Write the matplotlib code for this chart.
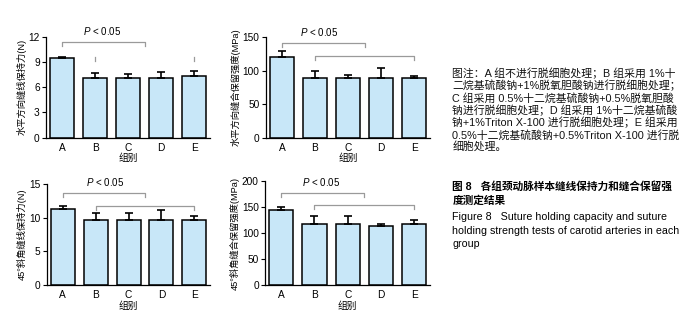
import matplotlib
matplotlib.use("Agg")
import matplotlib.pyplot as plt
import numpy as np

plt.rcParams['font.family'] = ['Liberation Sans', 'Noto Sans CJK SC']
plt.rcParams['mathtext.fontset'] = 'custom'
plt.rcParams['mathtext.it'] = 'Liberation Sans:italic'
plt.rcParams['mathtext.rm'] = 'Liberation Sans'

# data
groups = ["A", "B", "C", "D", "E"]
h_force = [9.43, 7.09, 7.09, 7.1, 7.37]
h_force_err = [0.15, 0.59, 0.51, 0.74, 0.59]
h_strength = [120, 88.7, 88.7, 88.7, 88.7]
h_strength_err = [9, 10.3, 5, 15.3, 3.3]
d_force = [11.33, 9.6, 9.6, 9.7, 9.6]
d_force_err = [0.45, 1.1, 1.1, 1.4, 0.7]
d_strength = [143.8, 117.5, 117.5, 113, 117.5]
d_strength_err = [6.2, 16, 15.5, 5, 8.5]

W, H = 690, 320
fig = plt.figure(figsize=(W / 100, H / 100), dpi=100)

BAR_COLOR = "#c8e7f8"
GRAY = "#9a9a9a"


def px_axes(left, right, top, bottom):
    return fig.add_axes([left / W, 1 - bottom / H, (right - left) / W, (bottom - top) / H])


def panel(ax, vals, errs, ymax, yticks, ylabel, br1, br2, ptxt, faint2=False):
    x = np.arange(len(groups))
    ax.bar(x, vals, width=0.73, color=BAR_COLOR, edgecolor="black", linewidth=1.1, zorder=2)
    ax.errorbar(x, vals, yerr=[np.zeros(len(vals)), errs], fmt="none", ecolor="black",
                elinewidth=1.2, capsize=2.6, capthick=1.2, zorder=3)
    ax.set_xlim(-0.49, 4.48)
    ax.set_ylim(0, ymax)
    ax.set_yticks(yticks)
    ax.set_xticks(x)
    ax.set_xticklabels(groups, fontsize=7.3)
    ax.tick_params(axis="x", length=0, pad=3.5)
    ax.tick_params(axis="y", labelsize=7.3, length=3, width=0.8, pad=1.5)
    for s in ("top", "right"):
        ax.spines[s].set_visible(False)
    ax.spines["left"].set_linewidth(0.9)
    ax.spines["bottom"].set_linewidth(0.9)
    ax.set_ylabel(ylabel, fontsize=6.7, labelpad=1.5)
    ax.set_xlabel("组别", fontsize=7, labelpad=0.5)
    tick = ymax * 0.04
    # brackets
    y1 = br1
    ax.plot([0, 0, 2.5, 2.5], [y1 - tick, y1, y1, y1 - tick], color=GRAY, lw=0.9, clip_on=False)
    y2 = br2
    if faint2:
        ax.plot([1, 1], [y2 - tick, y2], color=GRAY, lw=0.9, clip_on=False)
        ax.plot([4, 4], [y2 - tick, y2], color=GRAY, lw=0.9, clip_on=False)
    else:
        ax.plot([1, 1, 4, 4], [y2 - tick, y2, y2, y2 - tick], color=GRAY, lw=0.9, clip_on=False)
    ax.text(ptxt[0], ptxt[1], "$P$ < 0.05", fontsize=7, ha="center", va="center", clip_on=False)


ax1 = px_axes(46, 210, 36.7, 137.7)
panel(ax1, h_force, h_force_err, 12, [0, 3, 6, 9, 12], "水平方向缝线保持力(N)",
      11.37, 9.58, (1.2, 12.67), faint2=True)

ax2 = px_axes(265.7, 430, 37.3, 137.7)
panel(ax2, h_strength, h_strength_err, 150, [0, 50, 100, 150], "水平方向缝合保留强度(MPa)",
      141, 122, (1.14, 158))

ax3 = px_axes(46.7, 210, 184, 285)
panel(ax3, d_force, d_force_err, 15, [0, 5, 10, 15], "45°斜角缝线保持力(N)",
      13.7, 11.78, (1.29, 15.3))

ax4 = px_axes(265, 430, 181, 285.3)
panel(ax4, d_strength, d_strength_err, 200, [0, 50, 100, 150, 200], "45°斜角缝合保留强度(MPa)",
      177.6, 154, (1.19, 198))

# caption text
note_lines = [
    "图注：A 组不进行脱细胞处理；B 组采用 1%十",
    "二烷基硫酸钠+1%脱氧胆酸钠进行脱细胞处理；",
    "C 组采用 0.5%十二烷基硫酸钠+0.5%脱氧胆酸",
    "钠进行脱细胞处理；D 组采用 1%十二烷基硫酸",
    "钠+1%Triton X-100 进行脱细胞处理；E 组采用",
    "0.5%十二烷基硫酸钠+0.5%Triton X-100 进行脱",
    "细胞处理。",
]
note_y = [73.3, 85.7, 98.4, 110.5, 122.7, 135, 146.7]
tx = 452.5
for s, yy in zip(note_lines, note_y):
    fig.text(tx / W, 1 - yy / H, s, fontsize=7.8, va="center", ha="left", color="#111111")

fig.text(tx / W, 1 - 186 / H, "图 8   各组颈动脉样本缝线保持力和缝合保留强",
         fontsize=7.7, va="center", ha="left", fontweight="bold")
fig.text(tx / W, 1 - 201 / H, "度测定结果", fontsize=7.7, va="center", ha="left", fontweight="bold")
eng = [
    "Figure 8   Suture holding capacity and suture",
    "holding strength tests of carotid arteries in each",
    "group",
]
for s, yy in zip(eng, [216.5, 230.5, 244]):
    fig.text(tx / W, 1 - yy / H, s, fontsize=7.7, va="center", ha="left")

fig.savefig("out.png", dpi=100)
